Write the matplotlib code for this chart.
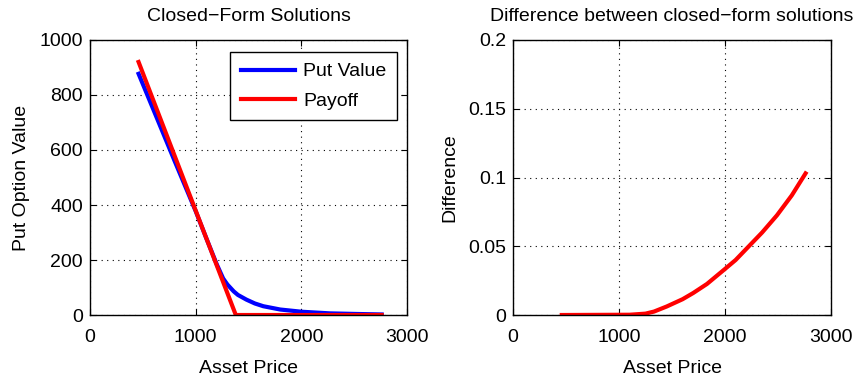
import numpy as np
import matplotlib
matplotlib.use("Agg")
import matplotlib.pyplot as plt

# === Data ===
S_put = [460, 600, 800, 1000, 1100, 1200, 1260, 1300, 1360, 1400, 1480,
         1560, 1640, 1800, 2000, 2270, 2500, 2760]
put_value = [877, 747, 561, 378, 280, 184, 133, 111, 86, 73, 56,
             42, 32, 20, 12, 6, 4, 2]

S_payoff = [460, 1380, 2760]
payoff = [920, 0, 0]

S_diff = [460, 1100, 1250, 1330, 1450, 1600, 1700, 1830, 2000, 2100,
          2200, 2350, 2490, 2630, 2760]
diff = [0, 0.0002, 0.001, 0.0025, 0.0062, 0.0115, 0.016, 0.0226, 0.0335,
        0.040, 0.048, 0.060, 0.0725, 0.087, 0.103]

left_ticks_y = [0, 200, 400, 600, 800, 1000]
right_ticks_y = [0, 0.05, 0.1, 0.15, 0.2]
right_tick_labels = ['0', '0.05', '0.1', '0.15', '0.2']
x_ticks = [0, 1000, 2000, 3000]

plt.rcParams['font.family'] = ['Liberation Sans', 'DejaVu Sans']
fs = 14

fig = plt.figure(figsize=(8.56, 3.83), dpi=100)
ax1 = fig.add_axes([0.1051, 0.1775, 0.3704, 0.7181])
ax2 = fig.add_axes([0.5993, 0.1775, 0.3715, 0.7181])


def matlab_style(ax):
    ax.tick_params(direction='in', top=True, right=True, length=4,
                   width=0.8, labelsize=fs)
    ax.tick_params(axis='x', pad=10)
    ax.tick_params(axis='y', pad=5)
    ax.grid(True, linestyle=(0, (1, 4)), color='black', linewidth=0.8)
    for sp in ax.spines.values():
        sp.set_linewidth(1.0)
    ax.set_xlim(0, 3000)
    ax.set_xticks(x_ticks)


# === Left: put value vs payoff ===
ax1.plot(S_put, put_value, color='#0000ff', lw=3, label='Put Value')
ax1.plot(S_payoff, payoff, color='#ff0000', lw=3, label='Payoff')
matlab_style(ax1)
ax1.set_ylim(0, 1000)
ax1.set_yticks(left_ticks_y)
ax1.set_title('Closed\u2212Form Solutions', fontsize=fs, pad=14)
ax1.set_xlabel('Asset Price', fontsize=fs, labelpad=10)
ax1.set_ylabel('Put Option Value', fontsize=fs, labelpad=7)
leg = ax1.legend(loc='upper right', fontsize=fs, handlelength=2.8,
                 fancybox=False, framealpha=1, edgecolor='black',
                 borderpad=0.55, labelspacing=0.6, handletextpad=0.4,
                 borderaxespad=0, bbox_to_anchor=(0.968, 0.956))
leg.get_frame().set_linewidth(1.0)

# === Right: difference ===
ax2.plot(S_diff, diff, color='#ff0000', lw=3)
matlab_style(ax2)
ax2.set_ylim(0, 0.2)
ax2.set_yticks(right_ticks_y)
ax2.set_yticklabels(right_tick_labels)
ax2.set_title('Difference between closed\u2212form solutions', fontsize=fs, pad=14)
ax2.set_xlabel('Asset Price', fontsize=fs, labelpad=10)
ax2.set_ylabel('Difference', fontsize=fs, labelpad=7)

fig.savefig('out.png', dpi=100)
